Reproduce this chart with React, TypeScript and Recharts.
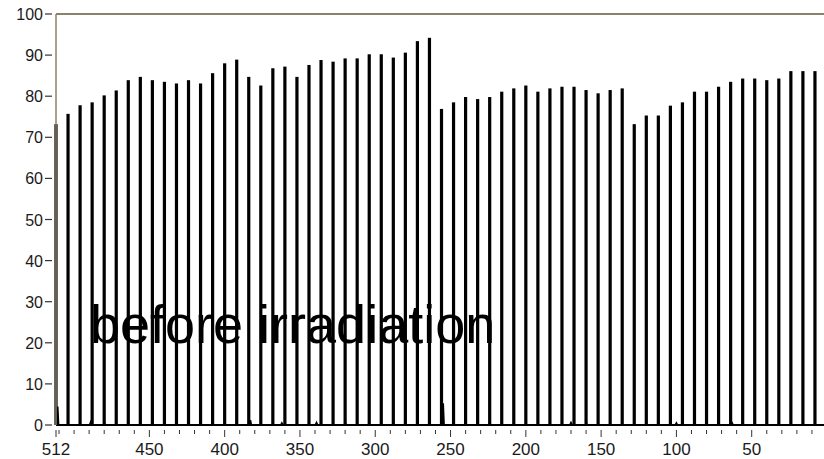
import { Bar, ComposedChart, Line, ReferenceLine, XAxis, YAxis } from "recharts";

// peak positions (channel) and their heights
const peakChannels = [
  512, 504, 496, 488, 480, 472, 464, 456, 448, 440, 432, 424, 416, 408, 400, 392,
  384, 376, 368, 360, 352, 344, 336, 328, 320, 312, 304, 296, 288, 280, 272, 264,
  256, 248, 240, 232, 224, 216, 208, 200, 192, 184, 176, 168, 160, 152, 144, 136,
  128, 120, 112, 104, 96, 88, 80, 72, 64, 56, 48, 40, 32, 24, 16, 8,
];
const peakHeights = [
  73.2, 75.7, 77.8, 78.5, 80.2, 81.4, 83.9, 84.7, 83.9, 83.5, 83.1, 83.9, 83.1, 85.6, 88.0, 88.9,
  84.7, 82.6, 86.8, 87.2, 84.7, 87.6, 88.8, 88.4, 89.2, 89.2, 90.2, 90.2, 89.4, 90.6, 93.4, 94.2,
  76.9, 78.5, 79.8, 79.3, 79.8, 81.1, 81.9, 82.6, 81.1, 81.9, 82.3, 82.3, 81.5, 80.7, 81.5, 81.9,
  73.2, 75.3, 75.3, 77.7, 78.5, 81.1, 81.1, 82.3, 83.5, 84.3, 84.3, 83.9, 84.3, 86.1, 86.1, 86.1,
];

// small blips on the baseline
const blipChannels = [511, 489, 480, 448, 383, 362, 339, 320, 255, 224, 170, 160, 104, 100, 96, 63];
const blipHeights = [4.5, 0.6, 0.6, 0.5, 1.2, 0.4, 0.5, 0.6, 5.3, 0.6, 0.5, 0.6, 0.4, 0.4, 0.4, 0.4];

const yTicks = [0, 10, 20, 30, 40, 50, 60, 70, 80, 90, 100];
const xLabels = [512, 450, 400, 350, 300, 250, 200, 150, 100, 50];
const xMinor = [510, 500, 490, 480, 470, 460, 440, 430, 420, 410, 390, 380, 370, 360, 340, 330,
  320, 310, 290, 280, 270, 260, 240, 230, 220, 210, 190, 180, 170, 160, 140, 130, 120, 110,
  90, 80, 70, 60, 40, 30, 20, 10];

type Row = { ch: number; peak?: number; base: number };

const rows: Row[] = [];
peakChannels.forEach((ch, i) => rows.push({ ch, peak: peakHeights[i], base: 0 }));
blipChannels.forEach((ch, i) => {
  rows.push({ ch: ch + 0.6, base: 0 });
  rows.push({ ch, base: blipHeights[i] });
  rows.push({ ch: ch - 0.6, base: 0 });
});
rows.push({ ch: 0, base: 0 });
rows.sort((a, b) => b.ch - a.ch);

const AXIS = "#8a826a";
const FONT = "'Liberation Sans', Arial, sans-serif";

function XTick({ x, y, payload }: any) {
  const v = payload.value as number;
  const major = xLabels.includes(v);
  return (
    <g>
      <line x1={x} x2={x} y1={y + 5} y2={y + (major ? 12 : 9)} stroke="#333" strokeWidth={1} />
      {major && (
        <text x={x} y={y + 30} textAnchor="middle" fontSize={17} fontFamily={FONT} fill="#1a1a1a">
          {v}
        </text>
      )}
    </g>
  );
}

function YTick({ x, y, payload }: any) {
  return (
    <g>
      <line x1={x - 11} x2={x - 4} y1={y} y2={y} stroke="#333" strokeWidth={1.2} />
      <text x={x - 13} y={y + 6} textAnchor="end" fontSize={16} fontFamily={FONT} fill="#1a1a1a">
        {payload.value}
      </text>
    </g>
  );
}

// fixed-width stick centred on the channel
function Stick({ x, y, width, height }: any) {
  if (!height) return null;
  return <rect x={x + width / 2 - 1.6} y={y} width={3.2} height={height} fill="#000" />;
}

export default function App() {
  return (
    <div
      style={{
        position: "absolute",
        left: 0,
        top: 0,
        width: 824,
        height: 459,
        overflow: "hidden",
        background: "#fff",
      }}
    >
      <ComposedChart
        width={844}
        height={459}
        data={rows}
        margin={{ top: 14, right: 17, bottom: 0, left: 0 }}
      >
        <XAxis
          type="number"
          dataKey="ch"
          domain={[0, 512]}
          reversed
          ticks={[512, ...xMinor, ...xLabels.filter((v) => v !== 512)].sort((a, b) => b - a)}
          interval={0}
          tick={<XTick />}
          tickLine={false}
          tickSize={0}
          tickMargin={0}
          axisLine={false}
          height={34}
        />
        <YAxis
          type="number"
          domain={[0, 100]}
          ticks={yTicks}
          interval={0}
          tick={<YTick />}
          tickLine={false}
          tickSize={0}
          tickMargin={0}
          axisLine={{ stroke: AXIS, strokeWidth: 1.5 }}
          width={56}
        />
        <ReferenceLine y={100} stroke={AXIS} strokeWidth={2} />
        <Line
          type="linear"
          dataKey="base"
          stroke="#000"
          strokeWidth={2}
          dot={false}
          isAnimationActive={false}
        />
        <Bar dataKey="peak" fill="#000" shape={<Stick />} isAnimationActive={false} />
      </ComposedChart>
      <svg
        width={824}
        height={459}
        style={{ position: "absolute", left: 0, top: 0, pointerEvents: "none" }}
      >
        <text x={90} y={343} fontSize={54} fontFamily={FONT} fill="#000">
          before irradiation
        </text>
      </svg>
    </div>
  );
}
